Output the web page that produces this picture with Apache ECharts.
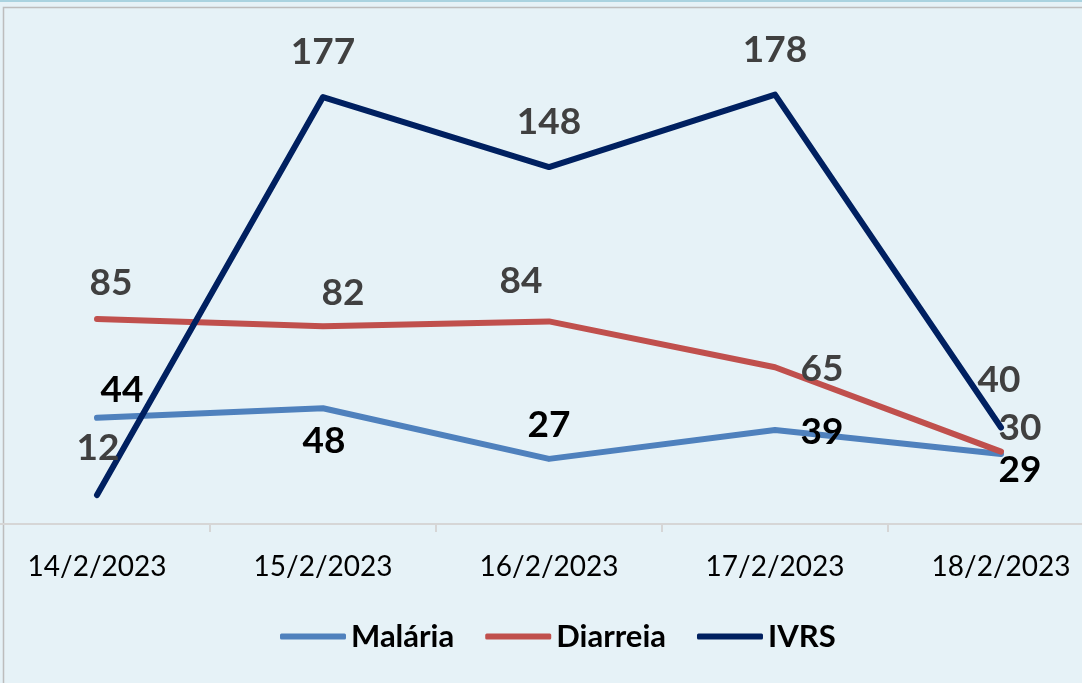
<!DOCTYPE html>
<html><head><meta charset="utf-8">
<script src="https://cdn.jsdelivr.net/npm/echarts@6/dist/echarts.min.js"></script>
<style>html,body{margin:0;padding:0;background:#e6f2f7;overflow:hidden;width:1082px;height:683px;position:relative}#c{position:absolute;left:-16px;top:0;width:1130px;height:683px}</style>
</head><body><div id="c"></div>
<script>
const categories = ['14/2/2023','15/2/2023','16/2/2023','17/2/2023','18/2/2023'];
const malaria = [44, 48, 27, 39, 29];
const diarreia = [85, 82, 84, 65, 30];
const ivrs = [12, 177, 148, 178, 40];
const seriesNames = ['Malária','Diarreia','IVRS'];

// label placement (style only)
const malariaOff = [[25,-28],[1,33],[0,-34],[47,2],[19,16]];
const diarreiaOff = [[14,-36],[20,-33],[-28,-40],[47,2],[19,-24]];
const ivrsOff = [[1,-47],[0,-45],[0,-45],[0,-45],[-2,-47]];

function mk(vals, offs){
  return vals.map((v,i)=>({value:v, label:{offset:offs[i]}}));
}
const font = 'Lato, "Open Sans", sans-serif';
function ser(name, vals, offs, color, labColor, z){
  return {
    name, type:'line', data: mk(vals, offs), z,
    symbol:'circle', symbolSize:2, showSymbol:true,
    lineStyle:{width:6, color, cap:'round', join:'round'}, itemStyle:{color},
    label:{show:true, position:'inside', color:labColor, fontFamily:font, fontWeight:'bold', fontSize:37},
    emphasis:{disabled:true}, animation:false
  };
}
const X0 = 16;
const chart = echarts.init(document.getElementById('c'), null, {renderer:'canvas'});
chart.setOption({
  backgroundColor:'#e6f2f7',
  animation:false,
  graphic:[
    {type:'rect', shape:{x:0,y:0,width:1130,height:2}, style:{fill:'#aad3e0'}, silent:true},
    {type:'rect', shape:{x:X0+3.5,y:7.5,width:1130,height:700}, style:{fill:'none', stroke:'#bdbdbd', lineWidth:1.5}, silent:true}
  ],
  grid:{left:0, right:0, top:41.6, bottom:159, containLabel:false},
  xAxis:{type:'category', data:categories, boundaryGap:true,
    axisLine:{lineStyle:{color:'#d6d6d6', width:2}},
    axisTick:{show:true, alignWithLabel:false, length:8, lineStyle:{color:'#d6d6d6', width:2}},
    axisLabel:{color:'#000', fontFamily:font, fontSize:28, margin:29}
  },
  yAxis:{type:'value', min:0, max:200, show:false, splitLine:{show:false}},
  legend:{data:seriesNames, left:275+X0, top:616, itemWidth:66, itemHeight:6, itemGap:31,
    icon:'roundRect',
    textStyle:{color:'#000', fontFamily:font, fontWeight:'bold', fontSize:31}},
  series:[
    ser('Malária', malaria, malariaOff, '#4f81bd', '#000', 3),
    ser('Diarreia', diarreia, diarreiaOff, '#c0504d', '#404040', 4),
    ser('IVRS', ivrs, ivrsOff, '#002060', '#404040', 5)
  ]
});
</script></body></html>
